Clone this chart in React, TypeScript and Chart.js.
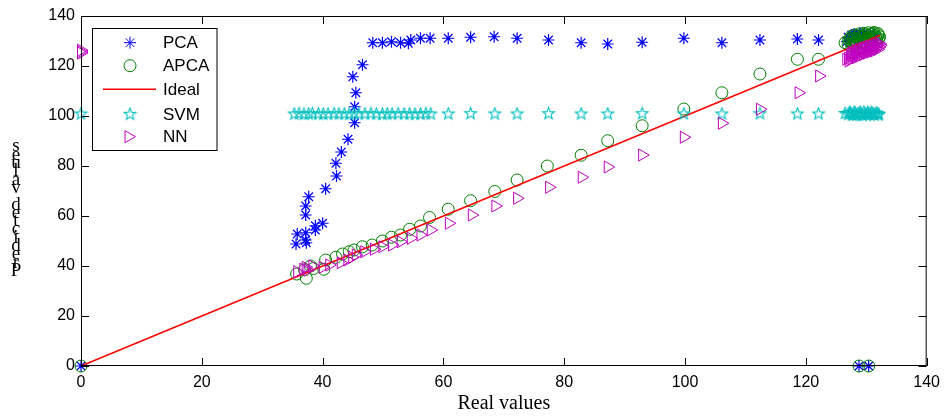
import { useEffect, useRef } from 'react';
import { Chart, registerables } from 'chart.js';

Chart.register(...registerables);

const X_TICKS = [0, 20, 40, 60, 80, 100, 120, 140];
const Y_TICKS = [0, 20, 40, 60, 80, 100, 120, 140];
const X_TITLE = 'Real values';
const Y_TITLE = 'Predicted values';
const LEGEND_LABELS = ['PCA', 'APCA', 'Ideal', 'SVM', 'NN'];

const PCA_X = [0, 35.6, 35.8, 37.2, 37.3, 37.2, 37.2, 37.2, 37.7, 38.8, 38.8, 40.0, 40.5, 42.3, 42.2, 43.1, 44.2, 45.3, 45.3, 45.5, 45.0, 46.6, 48.3, 49.9, 51.4, 52.9, 54.2, 54.6, 56.2, 57.8, 60.8, 64.5, 68.4, 72.2, 77.4, 82.8, 87.2, 92.9, 99.8, 106.1, 112.4, 118.6, 122.1, 126.8, 127.2, 127.5, 127.9, 128.3, 128.6, 129.0, 129.4, 129.8, 130.1, 130.5, 130.9, 131.3, 127.0, 127.6, 128.0, 128.4, 128.9, 129.3, 129.7, 130.3, 130.7, 131.1, 128.8, 130.4];
const PCA_Y = [0, 48.8, 52.8, 50.4, 49.3, 53.3, 60.4, 64.0, 67.7, 54.4, 56.1, 57.1, 70.9, 76.0, 81.1, 85.6, 90.7, 97.3, 103.7, 109.3, 115.7, 120.5, 129.3, 129.3, 129.7, 129.3, 129.1, 130.4, 131.1, 131.1, 131.1, 131.5, 131.7, 131.1, 130.4, 129.3, 128.8, 129.5, 131.1, 129.3, 130.4, 130.8, 130.4, 129.8, 131.2, 130.6, 132.1, 131.0, 131.8, 130.7, 132.2, 131.3, 131.9, 130.9, 131.6, 131.2, 131.5, 132.4, 132.8, 132.2, 133.0, 132.6, 132.9, 132.5, 132.7, 132.3, 0, 0];

const APCA_X = [0, 35.7, 37.0, 37.3, 38.0, 38.5, 40.2, 40.5, 42.2, 43.3, 44.4, 45.2, 46.6, 48.2, 49.9, 51.4, 52.9, 54.4, 56.2, 57.7, 60.8, 64.5, 68.5, 72.2, 77.2, 82.8, 87.2, 92.9, 99.8, 106.1, 112.4, 118.6, 122.1, 126.5, 127.0, 127.3, 127.6, 127.9, 128.2, 128.5, 128.8, 129.1, 129.4, 129.7, 130.0, 130.3, 130.6, 130.9, 131.2, 131.5, 131.8, 132.0, 127.4, 128.0, 128.7, 129.3, 129.9, 130.5, 131.1, 131.7, 127.1, 127.5, 127.8, 128.1, 128.4, 128.9, 129.2, 129.6, 130.1, 130.4, 130.8, 131.3, 131.6, 131.9, 132.2, 127.6, 128.3, 129.0, 129.8, 130.7, 131.4, 132.1, 128.8, 130.4];
const APCA_Y = [0, 36.8, 38.5, 35.1, 40.0, 39.0, 38.7, 42.4, 43.5, 44.8, 45.7, 46.4, 47.7, 48.4, 50.0, 51.5, 52.4, 54.7, 56.0, 59.4, 62.7, 66.1, 69.8, 74.4, 80.0, 84.3, 90.1, 96.1, 102.8, 109.3, 116.8, 122.7, 122.7, 129.3, 128.6, 129.9, 129.0, 130.7, 129.5, 131.1, 130.3, 131.6, 130.1, 131.9, 130.8, 132.3, 131.1, 132.6, 131.5, 132.1, 131.3, 132.5, 131.0, 128.7, 132.0, 129.3, 132.8, 130.2, 133.0, 130.6, 130.4, 131.8, 128.9, 132.4, 130.0, 132.9, 129.8, 133.1, 131.2, 133.3, 129.9, 133.4, 130.8, 133.0, 131.7, 127.9, 128.4, 128.9, 129.6, 130.0, 130.3, 130.9, 0, 0];

const IDEAL_X = [0, 132.3];
const IDEAL_Y = [0, 132.3];

const SVM_X = [0, 35.3, 36.1, 36.9, 37.7, 38.3, 39.3, 40.1, 40.9, 41.9, 42.7, 43.6, 44.4, 45.2, 46.0, 47.0, 48.0, 48.9, 49.9, 50.7, 51.5, 52.5, 53.5, 54.4, 55.3, 56.2, 57.1, 57.9, 60.8, 64.5, 68.5, 72.2, 77.4, 82.8, 87.2, 92.9, 99.8, 106.1, 112.4, 118.6, 122.1, 126.5, 127.0, 127.4, 127.8, 128.2, 128.6, 129.0, 129.4, 129.8, 130.2, 130.6, 131.0, 131.4, 131.8, 132.1, 127.2, 127.6, 128.0, 128.4, 128.8, 129.2, 129.6, 130.0, 130.4, 130.8, 131.2, 131.6, 132.0];
const SVM_Y = [100.8, 100.8, 100.9, 100.7, 100.8, 100.9, 100.8, 100.7, 100.8, 100.9, 100.8, 100.8, 100.7, 100.9, 100.8, 100.8, 100.9, 100.8, 100.7, 100.8, 100.8, 100.9, 100.8, 100.8, 100.7, 100.8, 100.9, 100.8, 100.8, 100.9, 100.8, 100.8, 100.9, 100.8, 100.8, 100.9, 100.8, 100.8, 100.9, 100.8, 100.8, 101.0, 100.6, 101.2, 100.3, 101.0, 100.7, 101.4, 100.2, 100.9, 101.3, 100.5, 101.1, 100.4, 101.0, 100.7, 101.3, 100.5, 101.5, 100.3, 101.1, 100.6, 101.5, 100.4, 100.9, 101.4, 100.6, 101.2, 100.4];

const NN_X = [0, 0, 0, 35.8, 36.8, 37.2, 37.5, 38.3, 40.0, 41.1, 43.0, 44.1, 44.9, 45.5, 46.9, 48.5, 49.9, 51.5, 52.9, 54.6, 56.2, 57.9, 60.9, 64.7, 68.6, 72.2, 77.5, 82.9, 87.2, 92.9, 99.8, 106.1, 112.4, 118.8, 122.2, 126.7, 127.0, 127.3, 127.6, 127.9, 128.2, 128.5, 128.8, 129.1, 129.4, 129.7, 130.0, 130.3, 130.6, 130.9, 131.2, 131.5, 131.8, 132.1, 127.1, 127.4, 127.7, 128.0, 128.3, 128.6, 128.9, 129.2, 129.5, 129.8, 130.1, 130.4, 130.7, 131.0, 131.3, 131.6, 131.9, 132.2, 127.5, 128.1, 128.7, 129.3, 129.9, 130.5, 131.1, 131.7, 132.3];
const NN_Y = [125.7, 125.2, 126.3, 37.7, 38.7, 39.5, 38.4, 40.0, 39.5, 40.4, 41.3, 42.4, 43.5, 44.4, 45.7, 46.7, 47.7, 48.4, 49.7, 51.1, 52.4, 54.4, 57.1, 60.4, 64.0, 67.1, 71.5, 75.5, 79.6, 84.4, 91.5, 97.1, 102.7, 109.3, 116.0, 122.7, 123.2, 124.3, 125.5, 123.9, 126.2, 124.8, 126.8, 125.2, 127.1, 125.7, 127.5, 126.1, 127.9, 126.5, 128.2, 126.9, 128.4, 127.6, 122.0, 122.6, 123.0, 124.6, 123.3, 125.6, 124.0, 126.3, 124.6, 126.7, 125.1, 127.2, 125.6, 127.6, 126.0, 128.0, 126.7, 128.9, 124.9, 125.5, 126.0, 126.6, 127.1, 127.7, 128.1, 128.5, 128.3];

const BLUE = '#0000ff';
const GREEN = '#008000';
const RED = '#ff0000';
const CYAN = '#00bfbf';
const MAGENTA = '#bf00bf';
const SANS = '"Liberation Sans", Arial, Helvetica, sans-serif';
const SERIF = '"Liberation Serif", "Times New Roman", serif';

function pts(xs: number[], ys: number[]) {
  return xs.map((x, i) => ({ x, y: ys[i] }));
}

function makePentagram(color: string): HTMLCanvasElement {
  const c = document.createElement('canvas');
  c.width = 15;
  c.height = 15;
  const ctx = c.getContext('2d')!;
  ctx.strokeStyle = color;
  ctx.lineWidth = 1.1;
  ctx.beginPath();
  for (let i = 0; i < 10; i++) {
    const r = i % 2 === 0 ? 6.2 : 2.6;
    const a = -Math.PI / 2 + (i * Math.PI) / 5;
    const px = 7.5 + r * Math.cos(a);
    const py = 7.5 + r * Math.sin(a);
    if (i === 0) ctx.moveTo(px, py);
    else ctx.lineTo(px, py);
  }
  ctx.closePath();
  ctx.stroke();
  return c;
}

function drawAsterisk(ctx: CanvasRenderingContext2D, x: number, y: number, r: number, color: string) {
  ctx.save();
  ctx.strokeStyle = color;
  ctx.lineWidth = 1;
  ctx.beginPath();
  ctx.moveTo(x - r, y); ctx.lineTo(x + r, y);
  ctx.moveTo(x, y - r); ctx.lineTo(x, y + r);
  const d = r * 0.7071;
  ctx.moveTo(x - d, y - d); ctx.lineTo(x + d, y + d);
  ctx.moveTo(x - d, y + d); ctx.lineTo(x + d, y - d);
  ctx.stroke();
  ctx.restore();
}

export default function App() {
  const ref = useRef<HTMLCanvasElement | null>(null);

  useEffect(() => {
    if (!ref.current) return;
    const star = makePentagram(CYAN);

    const decor = {
      id: 'decor',
      afterDraw(chart: any) {
        const ctx: CanvasRenderingContext2D = chart.ctx;
        const a = chart.chartArea;
        const xs = chart.scales.x;
        const ys = chart.scales.y;
        ctx.save();
        ctx.strokeStyle = '#000';
        ctx.lineWidth = 1;
        ctx.strokeRect(a.left + 0.5, a.top + 0.5, a.right - a.left - 1, a.bottom - a.top - 1);
        ctx.beginPath();
        X_TICKS.forEach((v) => {
          const px = Math.round(xs.getPixelForValue(v)) + 0.5;
          ctx.moveTo(px, a.bottom); ctx.lineTo(px, a.bottom - 8);
          ctx.moveTo(px, a.top); ctx.lineTo(px, a.top + 8);
        });
        Y_TICKS.forEach((v) => {
          const py = Math.round(ys.getPixelForValue(v)) + 0.5;
          ctx.moveTo(a.left, py); ctx.lineTo(a.left + 8, py);
          ctx.moveTo(a.right, py); ctx.lineTo(a.right - 8, py);
        });
        ctx.stroke();

        ctx.fillStyle = '#000';
        ctx.font = `20px ${SERIF}`;
        ctx.textAlign = 'center';
        ctx.textBaseline = 'middle';
        ctx.fillText(X_TITLE, (a.left + a.right) / 2, 404);

        ctx.font = `19px ${SERIF}`;
        const chars = Y_TITLE.split('');
        chars.forEach((ch, i) => {
          ctx.fillText(ch, 16, 271 - i * 8.3);
        });

        const lx = 92.5, ly = 28.5, lw = 124.5, lh = 122;
        ctx.fillStyle = '#fff';
        ctx.fillRect(lx, ly, lw, lh);
        ctx.strokeStyle = '#000';
        ctx.lineWidth = 1;
        ctx.strokeRect(lx, ly, lw, lh);
        const rowsY = [42.7, 65.7, 89.3, 114.3, 136.7];
        const mx = 130;
        drawAsterisk(ctx, mx, rowsY[0], 6, BLUE);
        ctx.strokeStyle = GREEN;
        ctx.beginPath();
        ctx.arc(mx, rowsY[1], 6, 0, Math.PI * 2);
        ctx.stroke();
        ctx.strokeStyle = RED;
        ctx.lineWidth = 1.5;
        ctx.beginPath();
        ctx.moveTo(103, rowsY[2]);
        ctx.lineTo(156, rowsY[2]);
        ctx.stroke();
        ctx.drawImage(star, mx - 7.5, rowsY[3] - 7.5);
        ctx.strokeStyle = MAGENTA;
        ctx.lineWidth = 1;
        ctx.beginPath();
        ctx.moveTo(mx - 5, rowsY[4] - 6);
        ctx.lineTo(mx + 5.5, rowsY[4]);
        ctx.lineTo(mx - 5, rowsY[4] + 6);
        ctx.closePath();
        ctx.stroke();
        ctx.fillStyle = '#000';
        ctx.font = `17px ${SANS}`;
        ctx.textAlign = 'left';
        ctx.textBaseline = 'middle';
        LEGEND_LABELS.forEach((t, i) => ctx.fillText(t, 163, rowsY[i] + 1));
        ctx.restore();
      },
    };

    const chart = new Chart(ref.current, {
      type: 'scatter',
      data: {
        datasets: [
          {
            label: LEGEND_LABELS[0],
            data: pts(PCA_X, PCA_Y),
            pointStyle: 'star',
            pointRadius: 6,
            borderColor: BLUE,
            backgroundColor: BLUE,
            borderWidth: 1.2,
            showLine: false,
            clip: false,
            order: 4,
          },
          {
            label: LEGEND_LABELS[1],
            data: pts(APCA_X, APCA_Y),
            pointStyle: 'circle',
            pointRadius: 6,
            borderColor: GREEN,
            backgroundColor: 'rgba(0,0,0,0)',
            borderWidth: 1,
            showLine: false,
            clip: false,
            order: 3,
          },
          {
            label: LEGEND_LABELS[2],
            data: pts(IDEAL_X, IDEAL_Y),
            pointRadius: 0,
            borderColor: RED,
            backgroundColor: RED,
            borderWidth: 1.5,
            showLine: true,
            clip: false,
            order: 2,
          },
          {
            label: LEGEND_LABELS[3],
            data: pts(SVM_X, SVM_Y),
            pointStyle: star,
            pointRadius: 6,
            borderColor: CYAN,
            backgroundColor: CYAN,
            showLine: false,
            clip: false,
            order: 1,
          },
          {
            label: LEGEND_LABELS[4],
            data: pts(NN_X, NN_Y),
            pointStyle: 'triangle',
            rotation: 90,
            pointRadius: 7,
            borderColor: MAGENTA,
            backgroundColor: 'rgba(0,0,0,0)',
            borderWidth: 1,
            showLine: false,
            clip: false,
            order: 0,
          },
        ] as any,
      },
      options: {
        animation: false,
        responsive: false,
        maintainAspectRatio: false,
        events: [],
        layout: { padding: { top: 16, right: 18, left: 0, bottom: 0 } },
        plugins: {
          legend: { display: false },
          tooltip: { enabled: false },
          title: { display: false },
        },
        scales: {
          x: {
            type: 'linear',
            min: 0,
            max: 140,
            afterFit: (s: any) => { s.height = 54; },
            grid: { display: false, drawTicks: false },
            border: { display: false },
            ticks: {
              stepSize: 20,
              padding: 7,
              color: '#000',
              font: { family: SANS, size: 16 },
              maxRotation: 0,
            },
          },
          y: {
            type: 'linear',
            min: 0,
            max: 140,
            afterFit: (s: any) => { s.width = 81; },
            grid: { display: false, drawTicks: false },
            border: { display: false },
            ticks: {
              stepSize: 20,
              padding: 6,
              color: '#000',
              font: { family: SANS, size: 16 },
            },
          },
        },
      } as any,
      plugins: [decor],
    });
    return () => chart.destroy();
  }, []);

  return (
    <div style={{ position: 'absolute', left: 0, top: 0, width: 947, height: 420, background: '#fff' }}>
      <canvas ref={ref} width={947} height={420} style={{ display: 'block', width: 947, height: 420 }} />
    </div>
  );
}
